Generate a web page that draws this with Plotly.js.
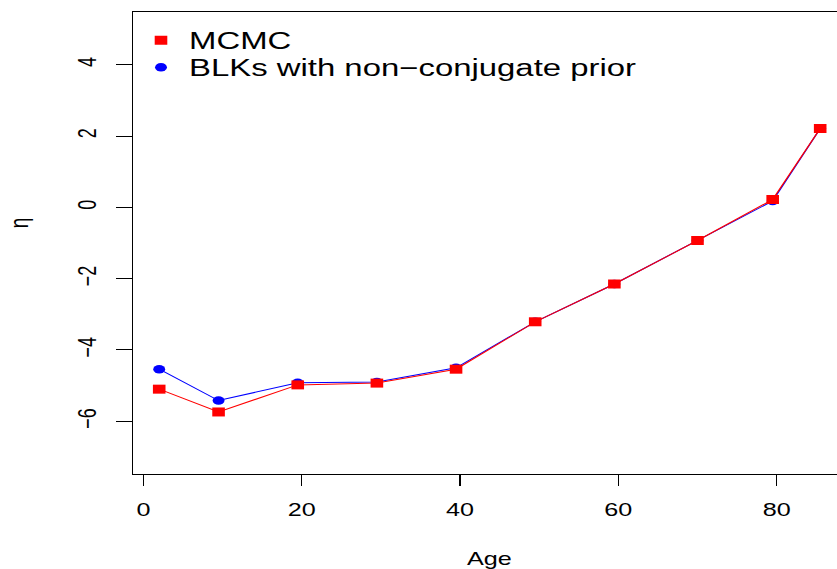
<!DOCTYPE html>
<html>
<head>
<meta charset="utf-8">
<script src="https://cdn.plot.ly/plotly-3.0.1.min.js"></script>
<style>
html, body { margin: 0; padding: 0; background: #fff; overflow: hidden; width: 837px; height: 569px; }
#wrap { width: 606px; height: 569px; transform: scaleX(1.4); transform-origin: 0 0; }
</style>
</head>
<body>
<div id="wrap"><div id="chart"></div></div>
<script>
// Data
const age = [2, 9.5, 19.5, 29.5, 39.5, 49.5, 59.5, 70, 79.5, 85.5];
const mcmc = [-5.10, -5.74, -4.98, -4.93, -4.54, -3.21, -2.15, -0.93, 0.22, 2.21];
const blk = [-4.54, -5.42, -4.92, -4.90, -4.50, -3.21, -2.15, -0.93, 0.18, 2.21];
const seriesNames = ["MCMC", "BLKs with non\u2212conjugate prior"];
const xTicks = [0, 20, 40, 60, 80];
const yTicks = [-6, -4, -2, 0, 2, 4];

const FONT = "Liberation Sans, Arial, Helvetica, sans-serif";
const RED = "#FF0000", BLUE = "#0000FF";

const traces = [
  {
    x: age, y: blk, name: seriesNames[1], type: "scatter", mode: "lines+markers",
    line: { color: BLUE, width: 1 },
    marker: { symbol: "circle", size: 8.5, color: BLUE },
    showlegend: false
  },
  {
    x: age, y: mcmc, name: seriesNames[0], type: "scatter", mode: "lines+markers",
    line: { color: RED, width: 1 },
    marker: { symbol: "square", size: 9, color: RED },
    showlegend: false
  },
  // legend-only entries (points only, as in the reference legend)
  {
    x: [null], y: [null], name: seriesNames[0], type: "scatter", mode: "markers",
    marker: { symbol: "square", size: 9, color: RED }, legend: "legend"
  },
  {
    x: [null], y: [null], name: seriesNames[1], type: "scatter", mode: "markers",
    marker: { symbol: "circle", size: 8.5, color: BLUE }, legend: "legend2"
  }
];

const axisCommon = {
  showline: true, mirror: true, linecolor: "#000", linewidth: 1,
  ticks: "outside", ticklen: 11, tickwidth: 1, tickcolor: "#000",
  showgrid: false, zeroline: false, automargin: false,
  tickfont: { family: FONT, size: 18, color: "#000" }
};

const legendCommon = {
  x: 0, xanchor: "left", yanchor: "top",
  bgcolor: "rgba(0,0,0,0)", borderwidth: 0,
  font: { family: FONT, size: 23.5, color: "#000" },
  tracegroupgap: 0
};

const layout = {
  width: 606, height: 569,
  margin: { l: 95, r: 2, t: 12, b: 95 },
  paper_bgcolor: "#fff", plot_bgcolor: "#fff",
  font: { family: FONT, color: "#000" },
  showlegend: true,
  legend: Object.assign({}, legendCommon, { y: 0.986 }),
  legend2: Object.assign({}, legendCommon, { y: 0.9275 }),
  xaxis: Object.assign({}, axisCommon, {
    range: [-1.31, 88.71],
    tickmode: "array", tickvals: xTicks,
    ticklabelstandoff: 8,
    title: { text: "Age", font: { family: FONT, size: 18, color: "#000" }, standoff: 36 }
  }),
  yaxis: Object.assign({}, axisCommon, {
    range: [-7.48, 5.48],
    tickmode: "array", tickvals: yTicks,
    tickangle: -90,
    ticklabelstandoff: 7
  }),
  annotations: [{
    text: "\u03b7", textangle: -90, showarrow: false,
    xref: "paper", yref: "paper", x: -0.16, y: 0.544,
    xanchor: "center", yanchor: "middle",
    font: { family: FONT, size: 19, color: "#000" }
  }]
};

Plotly.newPlot("chart", traces, layout, { staticPlot: true, displayModeBar: false });
</script>
</body>
</html>
